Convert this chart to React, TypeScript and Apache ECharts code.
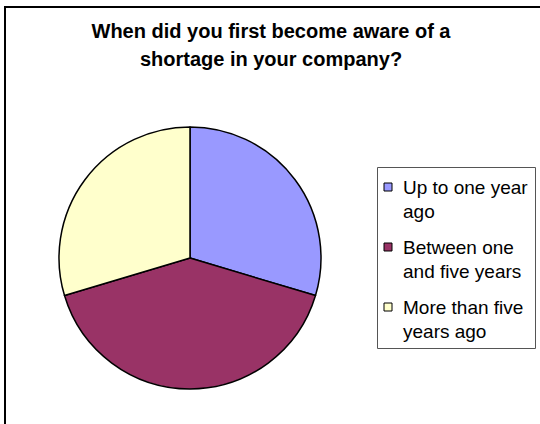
import React, { useEffect, useRef } from "react";
import * as echarts from "echarts";

const titleLines = ["When did you first become aware of a", "shortage in your company?"];
const categories = ["Up to one year ago", "Between one and five years", "More than five years ago"];
const legendLines = [["Up to one year", "ago"], ["Between one", "and five years"], ["More than five", "years ago"]];
const values = [8, 11, 8];
const colors = ["#9999FF", "#993366", "#FFFFCC"];

export default function App() {
  const ref = useRef<HTMLDivElement>(null);
  useEffect(() => {
    if (!ref.current) return;
    const chart = echarts.init(ref.current, undefined, { renderer: "svg" });
    const font = "'Liberation Sans', Arial, sans-serif";
    const legendEls: any[] = [];
    legendLines.forEach((lines, i) => {
      const y0 = 187 + i * 60;
      legendEls.push({
        type: "rect",
        shape: { x: 384, y: y0 - 4, width: 8, height: 8 },
        style: { fill: colors[i], stroke: "#000", lineWidth: 1 },
      });
      lines.forEach((ln, j) => {
        legendEls.push({
          type: "text",
          x: 403,
          y: y0 + j * 24,
          style: { text: ln, font: `19px ${font}`, fill: "#000", textVerticalAlign: "middle" },
        });
      });
    });
    chart.setOption({
      animation: false,
      backgroundColor: "#fff",
      title: {
        text: titleLines.join("\n"),
        left: 266,
        textAlign: "center",
        top: 12,
        textStyle: { fontFamily: font, fontWeight: "bold", fontSize: 20, lineHeight: 28, color: "#000" },
      },
      graphic: [
        {
          type: "rect",
          shape: { x: 5, y: 7, width: 600, height: 500 },
          style: { fill: "none", stroke: "#000", lineWidth: 2 },
          silent: true,
        },
        {
          type: "rect",
          shape: { x: 377.5, y: 167.5, width: 158, height: 181 },
          style: { fill: "#fff", stroke: "#555", lineWidth: 1 },
        },
        ...legendEls,
      ],
      series: [
        {
          type: "pie",
          center: [190, 258],
          radius: 131,
          startAngle: 90,
          clockwise: true,
          label: { show: false },
          labelLine: { show: false },
          emphasis: { disabled: true },
          itemStyle: { borderColor: "#000", borderWidth: 1.5 },
          data: categories.map((c, i) => ({ name: c, value: values[i], itemStyle: { color: colors[i] } })),
        },
      ],
    });
    return () => chart.dispose();
  }, []);
  return <div ref={ref} style={{ position: "fixed", left: 0, top: 0, width: 540, height: 424 }} />;
}
